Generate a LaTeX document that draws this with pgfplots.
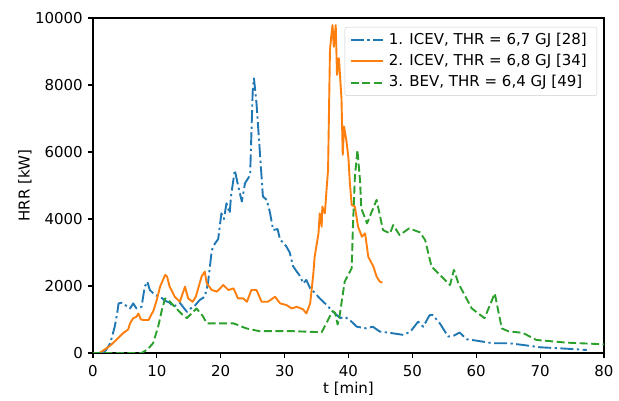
\documentclass[border=0pt]{standalone}
\usepackage{fontspec}
\setmainfont{DejaVu Sans}
\usepackage{pgfplots}
\pgfplotsset{compat=1.18}
\definecolor{cblue}{HTML}{1F77B4}
\definecolor{corange}{HTML}{FF7F0E}
\definecolor{cgreen}{HTML}{2CA02C}
\begin{document}
\fontsize{15}{18}\selectfont
\begin{tikzpicture}
\begin{axis}[
  scale only axis, width=511pt, height=335pt,
  xmin=0, xmax=80, ymin=0, ymax=10000,
  xtick={0,10,...,80}, ytick={0,2000,...,10000},
  scaled y ticks=false,
  /pgf/number format/set thousands separator={},
  /pgf/number format/assume math mode=true,
  tick align=outside, tick pos=left, major tick length=5pt,
  tick style={line width=1.1pt, black},
  axis line style={line width=1.1pt},
  ticklabel style={font=\fontsize{15}{18}\selectfont},
  xticklabel style={yshift=-2.5pt},
  xlabel={t [min]}, ylabel={HRR [kW]},
  xlabel style={at={(axis description cs:0.5,-0.106)}, anchor=center, font=\fontsize{15}{18}\selectfont},
  ylabel style={at={(axis description cs:-0.133,0.5)}, anchor=center, font=\fontsize{15}{18}\selectfont},
  legend cell align=left,
  legend style={at={(1,1)}, anchor=north east, xshift=-7pt, yshift=-9pt,
    draw=black!20, rounded corners=2pt, fill=white, fill opacity=0.8, text opacity=1,
    inner xsep=5pt, inner ysep=5pt, row sep=5.2pt,
    nodes={inner xsep=5pt, inner ysep=1pt, text height=11pt, text depth=3pt},
    font=\fontsize{15}{18}\selectfont},
  legend image code/.code={\draw[#1] (0pt,0pt) -- (32pt,0pt);},
  every axis plot/.append style={line width=1.9pt, line join=round},
]
\addplot[cblue, dash pattern=on 13pt off 3.5pt on 2.2pt off 3.5pt] coordinates {
(1.4,0) (2.0,80) (2.7,290) (3.4,785) (3.8,1200) (4.0,1480) (4.5,1500) (4.8,1450)
(5.3,1400) (5.8,1330) (6.3,1480) (6.8,1330) (7.3,1350) (7.6,1380) (8.1,1980)
(8.5,2130) (8.9,1880) (9.7,1730) (10.5,1680) (11.3,1560) (12.0,1500) (12.6,1380)
(13.6,1500) (14.2,1350) (14.7,1230) (15.3,1330) (15.8,1380) (16.7,1580) (17.5,1680)
(18.0,2080) (18.6,3070) (19.1,3270) (19.6,3400) (20.1,4170) (20.5,4000) (20.9,4470)
(21.4,4170) (21.6,4670) (22.2,5460) (22.7,5010) (23.3,4520) (23.8,5070) (24.6,5310)
(25.0,7800) (25.2,8200) (25.6,7450) (26.1,6060) (26.6,4670) (27.2,4570) (27.7,4200)
(28.2,3670) (28.9,3700) (29.3,3370) (29.8,3300) (30.3,3170) (30.8,3000) (31.3,2600)
(31.9,2430) (32.4,2300) (32.9,2080) (33.4,2180) (34.0,1930) (34.7,1800) (35.5,1630)
(36.6,1430) (37.6,1230) (38.7,1040) (39.4,1080) (40.2,985) (41.3,785) (42.8,735)
(43.8,785) (44.9,640) (46.5,600) (48.6,540) (49.7,640) (50.9,935) (51.7,785)
(52.7,1130) (53.2,1130) (54.3,885) (55.6,490) (56.5,520) (57.4,610) (58.5,410)
(60.0,370) (62.6,290) (65.2,290) (67.3,240) (70.0,170) (73.1,140) (75.7,110) (77.3,90)
};
\addlegendentry{1. ICEV, THR = 6,7 GJ [28]}
\addplot[corange] coordinates {
(1.0,0) (1.8,100) (2.7,220) (3.7,400) (4.7,590) (5.5,700) (5.8,885) (6.3,1040)
(6.8,1080) (7.1,1180) (7.5,1000) (7.9,985) (8.7,985) (9.5,1280) (10.0,1600)
(10.5,1980) (11.3,2330) (11.6,2280) (12.0,1980) (12.8,1680) (13.6,1530) (14.4,1980)
(14.9,1630) (15.6,1530) (16.1,1680) (17.0,2280) (17.5,2430) (17.8,2080) (18.6,1880)
(19.4,1830) (20.4,2030) (21.2,1880) (22.0,1930) (22.7,1630) (23.5,1630) (24.1,1530)
(24.8,1880) (25.6,1880) (26.4,1530) (27.4,1530) (28.5,1680) (29.3,1480) (30.3,1430)
(31.1,1330) (31.9,1380) (32.9,1300) (33.4,1180) (34.0,1480) (34.5,2380) (34.7,2870)
(35.3,3570) (35.5,4170) (35.8,3770) (35.9,4370) (36.3,4170) (36.6,4970) (36.8,5460)
(37.1,9040) (37.3,9450) (37.5,9790) (37.7,9140) (38.0,9790) (38.2,8300) (38.5,8800)
(38.9,7600) (39.1,5910) (39.3,6760) (39.7,6300) (40.0,5800) (40.2,5110) (40.5,4420)
(41.0,4370) (41.5,3770) (42.1,3470) (42.6,3570) (43.1,2870) (43.9,2580) (44.4,2280)
(44.9,2130) (45.3,2100)
};
\addlegendentry{2. ICEV, THR = 6,8 GJ [34]}
\addplot[cgreen, dash pattern=on 8pt off 3.5pt] coordinates {
(0,0) (7.6,0) (8.5,100) (9.4,290) (10.2,785) (10.8,1300) (11.3,1630) (11.8,1580)
(12.8,1380) (13.8,1180) (14.7,1040) (16.2,1330) (17.2,1100) (17.8,885) (20.4,885)
(22.0,885) (24.0,735) (26.1,650) (30.8,655) (35.8,620) (37.5,1250) (37.9,1200)
(38.3,850) (38.6,1100) (39.4,2130) (40.5,2530) (40.7,3800) (41.0,5260) (41.4,6060)
(41.8,5160) (42.0,4320) (42.9,3870) (44.4,4570) (45.4,3670) (46.5,3570) (47.0,3820)
(48.0,3520) (49.5,3720) (51.2,3600) (52.0,3370) (53.0,2580) (54.3,2330) (55.9,2030)
(56.5,2480) (57.2,2080) (59.3,1330) (61.3,1040) (62.9,1780) (64.0,735) (65.0,650)
(67.3,600) (69.4,390) (74.1,310) (79.9,260) (80,250)
};
\addlegendentry{3. BEV, THR = 6,4 GJ [49]}
\end{axis}
\path (current axis.south west) ++(-93pt,-46pt);
\path (current axis.north east) ++(15pt,18pt);
\end{tikzpicture}
\end{document}
